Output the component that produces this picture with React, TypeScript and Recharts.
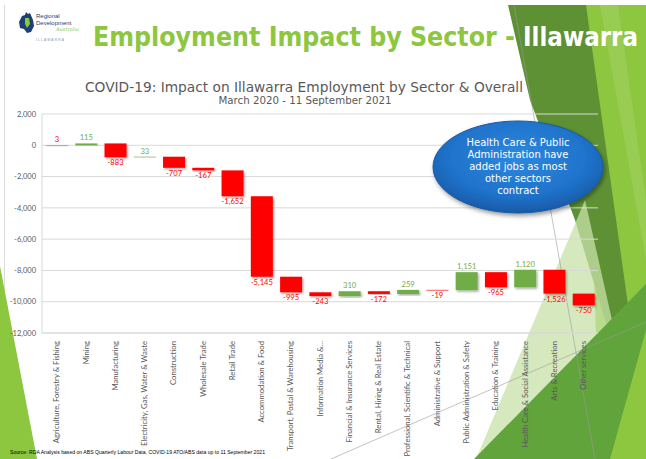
import React from 'react';
import { BarChart, Bar, XAxis, YAxis, CartesianGrid } from 'recharts';

const categories = [
  'Agriculture, Forestry & Fishing',
  'Mining',
  'Manufacturing',
  'Electricity, Gas, Water & Waste',
  'Construction',
  'Wholesale Trade',
  'Retail Trade',
  'Accommodation & Food',
  'Transport, Postal & Warehousing',
  'Information Media &...',
  'Financial & Insurance Services',
  'Rental, Hiring & Real Estate',
  'Professional, Scientific & Technical',
  'Administrative & Support',
  'Public Administration & Safety',
  'Education & Training',
  'Health Care & Social Assistance',
  'Arts & Recreation',
  'Other services',
];

const changes = [3, 115, -883, 33, -707, -167, -1652, -5145, -995, -243, 310, -172, 259, -19, 1151, -965, 1120, -1526, -750];

const yTicks = [2000, 0, -2000, -4000, -6000, -8000, -10000, -12000];

const calloutLines = [
  'Health Care & Public',
  'Administration have',
  'added jobs as most',
  'other sectors',
  'contract',
];

const RED = '#FF0000';
const GREEN = '#70AD47';
const GRAY = '#595959';

let running = 0;
const rows = categories.map((name, i) => {
  const start = running;
  running += changes[i];
  return { name, change: changes[i], range: [Math.min(start, running), Math.max(start, running)] };
});

const fmt = (v: number) => v.toLocaleString('en-US');

const WaterfallBar = (props: any) => {
  const { x, y, width, height, index } = props;
  const top = Math.min(y, y + height);
  const h = Math.abs(height);
  const v = changes[index];
  const up = v >= 0;
  const labelRed = !up || index === 0;
  return (
    <g>
      <rect x={x} y={top} width={width} height={Math.max(h, 0.6)} fill={up ? GREEN : RED} filter="url(#barShadow)" />
      <text
        x={x + width / 2}
        y={up ? top - 3 : top + h + 8}
        textAnchor="middle"
        fontSize={7.6}
        fontFamily="Lato"
        fill={labelRed ? RED : GREEN}
      >
        {fmt(v)}
      </text>
    </g>
  );
};

const XTick = (props: any) => {
  const { x, y, payload } = props;
  return (
    <text
      x={x}
      y={y}
      transform={`rotate(-90, ${x}, ${y})`}
      textAnchor="end"
      dy="0.35em"
      fontSize={7.7}
      fontFamily="Lato"
      fill={GRAY}
    >
      {payload.value}
    </text>
  );
};

export default function App() {
  return (
    <div style={{ position: 'fixed', left: 0, top: 0, width: 646, height: 459, background: '#fff', overflow: 'hidden' }}>
      <svg width={646} height={459} style={{ position: 'absolute', left: 0, top: 0 }}>
        <defs>
          <filter id="barShadow" x="-20%" y="-20%" width="150%" height="150%">
            <feDropShadow dx="1.2" dy="1.5" stdDeviation="0.9" floodColor="#000" floodOpacity="0.35" />
          </filter>
          <filter id="ovalShadow" x="-20%" y="-20%" width="140%" height="150%">
            <feDropShadow dx="1.5" dy="2.5" stdDeviation="2" floodColor="#000" floodOpacity="0.4" />
          </filter>
          <radialGradient id="ovalGrad" cx="50%" cy="40%" r="60%">
            <stop offset="0%" stopColor="#2E88DD" />
            <stop offset="70%" stopColor="#1F72CA" />
            <stop offset="100%" stopColor="#185AA8" />
          </radialGradient>
        </defs>
        <line x1={4.5} y1={5} x2={4.5} y2={459} stroke="#D0D0D0" strokeWidth={0.8} />
        <polygon points="585,5 646,5 646,459 600,459" fill="#8DC63F" />
        <polygon points="600,5 618,5 646,200 646,260" fill="#A2D05F" opacity={0.6} />
        <polygon points="508,5 586,5 628,305 617,360 575,220 530,100" fill="#5E9134" />
        <polygon points="585,200 612,320 476,459" fill="#C8E2A8" opacity={0.75} />
        <polygon points="474,459 646,284 646,330 610,459" fill="#62A43C" />
        <polygon points="0,266 37,459 0,459" fill="#8DC63F" />
        <line x1={514} y1={5} x2={595} y2={459} stroke="#9A9A9A" strokeWidth={0.6} />
        <line x1={331} y1={459} x2={646} y2={322} stroke="#9A9A9A" strokeWidth={0.6} />
      </svg>

      <div style={{ position: 'absolute', left: 0, top: 0 }}>
        <BarChart width={646} height={459} data={rows} margin={{ top: 114, right: 48, bottom: 16, left: 0 }} barCategoryGap="20%">
          <CartesianGrid vertical={false} stroke="#D9D9D9" />
          <XAxis
            dataKey="name"
            interval={0}
            tick={<XTick />}
            tickLine={false}
            axisLine={{ stroke: '#D9D9D9' }}
            height={110}
            tickMargin={2}
          />
          <YAxis
            domain={[-12000, 2000]}
            ticks={yTicks}
            tickFormatter={fmt}
            width={42}
            tickLine={false}
            axisLine={{ stroke: '#D9D9D9' }}
            tick={{ fontSize: 7.5, fontFamily: 'Lato', fill: GRAY }}
            tickSize={4}
            interval={0}
          />
          <Bar dataKey="range" barSize={22} shape={<WaterfallBar />} isAnimationActive={false} />
        </BarChart>
      </div>

      <svg width={646} height={459} style={{ position: 'absolute', left: 0, top: 0, pointerEvents: 'none' }}>
        {/* logo */}
        <g>
          <path d="M19,22 L22,16 L25,15 L26,12 L28,14 L30,13 L33,20 L34,26 L31,32 L27,33 L24,29 L20,28 Z" fill="#1C3F75" />
          <path d="M25,18 L29,18 L30,24 L27,28 L25,24 Z" fill="#8DC63F" />
          <text x={36} y={18} fontSize={6} fontFamily="Liberation Sans" fill="#1C3F75">Regional</text>
          <text x={36} y={25} fontSize={6} fontFamily="Liberation Sans" fill="#1C3F75">Development</text>
          <text x={56} y={31} fontSize={5} fontStyle="italic" fontFamily="DejaVu Serif" fill="#8DC63F">Australia</text>
          <text x={36} y={41} fontSize={3.2} letterSpacing={1.2} fontFamily="Liberation Sans" fill="#7A8FA8">ILLAWARRA</text>
        </g>
        {/* main title */}
        <text y={46} fontSize={27} fontWeight="bold" fontFamily="DejaVu Sans">
          <tspan x={93} fill="#8DC63F" textLength={422} lengthAdjust="spacingAndGlyphs">Employment Impact by Sector -</tspan>
          <tspan x={523} fill="#FFFFFF" textLength={115} lengthAdjust="spacingAndGlyphs">Illawarra</tspan>
        </text>
        {/* chart title */}
        <text x={85} y={92} fontSize={13.5} fontFamily="DejaVu Sans" fill={GRAY} textLength={438} lengthAdjust="spacingAndGlyphs">
          COVID-19: Impact on Illawarra Employment by Sector &amp; Overall
        </text>
        <text x={305} y={104} fontSize={10} fontFamily="DejaVu Sans" fill={GRAY} textAnchor="middle" textLength={173} lengthAdjust="spacingAndGlyphs">
          March 2020 - 11 September 2021
        </text>
        {/* callout */}
        <ellipse cx={518} cy={167} rx={85} ry={46} fill="url(#ovalGrad)" stroke="#1A5AA0" strokeWidth={1} filter="url(#ovalShadow)" />
        {calloutLines.map((t, i) => (
          <text key={t} x={518} y={145.5 + i * 12.2} fontSize={10} fontFamily="DejaVu Sans" fill="#FFFFFF" textAnchor="middle">
            {t}
          </text>
        ))}
        {/* source */}
        <text x={10} y={454} fontSize={5.5} fontFamily="Liberation Sans" fill="#000" textLength={255} lengthAdjust="spacingAndGlyphs">
          Source: RDA Analysis based on ABS Quarterly Labour Data, COVID-19 ATO/ABS data up to 11 September 2021
        </text>
      </svg>
    </div>
  );
}
